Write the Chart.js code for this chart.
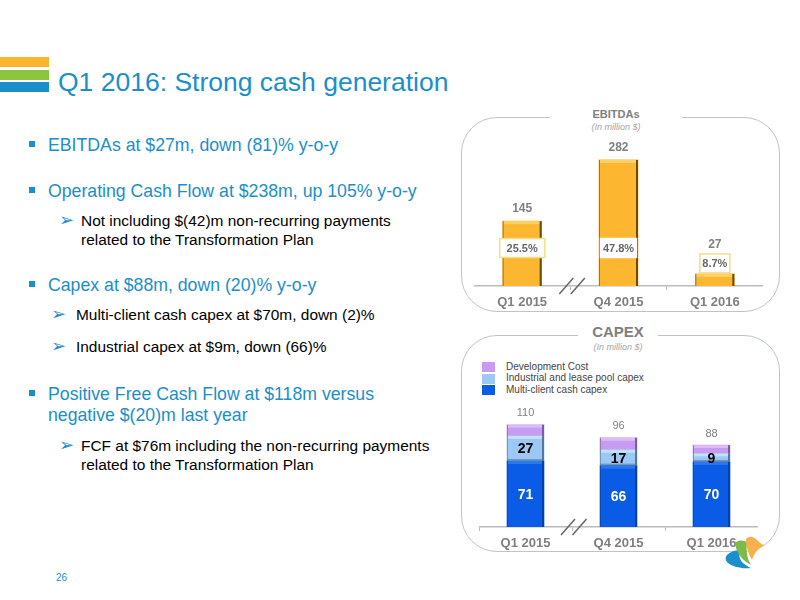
<!DOCTYPE html>
<html>
<head>
<meta charset="utf-8">
<title>Q1 2016: Strong cash generation</title>
<script src="https://cdn.jsdelivr.net/npm/chart.js@4"></script>
<style>
html, body { margin: 0; padding: 0; background: #fff; overflow: hidden; }
body { width: 800px; height: 600px; position: relative; font-family: "Liberation Sans", Arial, sans-serif; }
.abs { position: absolute; white-space: nowrap; }
.stripe { position: absolute; left: 0; width: 49px; height: 10px; }
.title { left: 58px; top: 68px; font-size: 26.5px; line-height: 28px; color: #1a8fca; }
.b1 { font-size: 17.7px; line-height: 20px; color: #1a8fca; }
.b2 { font-size: 15.45px; line-height: 20px; color: #000; }
.sq { position: absolute; left: 29px; width: 6px; height: 6px; background: #1a8fca; }
.arrow { font-family: "DejaVu Sans", sans-serif; font-size: 18px; line-height: 20px; color: #1a8fca; }
.panel { position: absolute; border: 1.8px solid #c0c4c8; border-radius: 36px; box-sizing: border-box; }
.ptitle { position: absolute; background: #fff; text-align: center; font-weight: bold; color: #7f7f7f; }
.psub { position: absolute; text-align: center; font-style: italic; font-size: 9px; color: #a6a6a6; }
.leg { position: absolute; left: 506px; font-size: 10px; line-height: 12px; color: #444; white-space: nowrap; }
.swatch { position: absolute; left: 482px; width: 13px; height: 10px; }
canvas { position: absolute; }
</style>
</head>
<body>
<div class="stripe" style="top:57px;background:#fdb42f"></div>
<div class="stripe" style="top:70px;background:#8cc63f"></div>
<div class="stripe" style="top:82px;background:#1a8fca"></div>
<div class="abs title">Q1 2016: Strong cash generation</div>

<div class="sq" style="top:141px"></div>
<div class="abs b1" style="left:48px;top:135px">EBITDAs at $27m, down (81)% y-o-y</div>
<div class="sq" style="top:187px"></div>
<div class="abs b1" style="left:48px;top:181px">Operating Cash Flow at $238m, up 105% y-o-y</div>
<div class="abs arrow" style="left:59px;top:210px">&#10146;</div>
<div class="abs b2" style="left:81px;top:211px">Not including $(42)m non-recurring payments</div>
<div class="abs b2" style="left:81px;top:230px">related to the Transformation Plan</div>
<div class="sq" style="top:281px"></div>
<div class="abs b1" style="left:48px;top:275px">Capex at $88m, down (20)% y-o-y</div>
<div class="abs arrow" style="left:51px;top:304px">&#10146;</div>
<div class="abs b2" style="left:76px;top:305px">Multi-client cash capex at $70m, down (2)%</div>
<div class="abs arrow" style="left:51px;top:336px">&#10146;</div>
<div class="abs b2" style="left:76px;top:337px">Industrial capex at $9m, down (66)%</div>
<div class="sq" style="top:390px"></div>
<div class="abs b1" style="left:48px;top:384px">Positive Free Cash Flow at $118m versus</div>
<div class="abs b1" style="left:48px;top:405px">negative $(20)m last year</div>
<div class="abs arrow" style="left:59px;top:435px">&#10146;</div>
<div class="abs b2" style="left:81px;top:436px">FCF at $76m including the non-recurring payments</div>
<div class="abs b2" style="left:81px;top:455px">related to the Transformation Plan</div>
<div class="abs" style="left:56px;top:572px;font-size:10px;color:#1a8fca">26</div>

<div class="panel" style="left:461px;top:117px;width:319px;height:195px"></div>
<div class="ptitle" style="left:550px;top:106px;width:132px;font-size:11px;line-height:16px">EBITDAs</div>
<div class="psub" style="left:550px;top:122px;width:132px">(In million $)</div>

<div class="panel" style="left:461px;top:335px;width:319px;height:217px"></div>
<div class="ptitle" style="left:578px;top:323px;width:80px;font-size:15px;line-height:18px">CAPEX</div>
<div class="psub" style="left:578px;top:342px;width:80px">(In million $)</div>

<div class="swatch" style="top:362px;background:#c79cf0"></div>
<div class="swatch" style="top:374px;background:#9cc8f5"></div>
<div class="swatch" style="top:385px;background:#0a5ce6"></div>
<div class="leg" id="leg0" style="top:361px"></div>
<div class="leg" id="leg1" style="top:372px"></div>
<div class="leg" id="leg2" style="top:384px"></div>

<canvas id="ebitdaChart" style="left:474px;top:130px;width:289px;height:180px"></canvas>
<canvas id="capexChart" style="left:479px;top:400px;width:279px;height:151px"></canvas>

<svg class="abs" style="left:720px;top:525px" width="70" height="60" viewBox="0 0 70 60">
  <path d="M20 25 C8 26,3 32,7 37 C12 42,22 44,31 43 C24 40,17 35,20 25 Z" fill="#1a8fca"/>
  <path d="M15 18 C20 14,24 16,27 17 C26 25,27 34,31 40 C23 36,16 28,15 18 Z" fill="#7cbb4a"/>
  <path d="M26 14 C30 10,34 12,38 16 C41 19,43 20,45 20 C40 22,35 26,32 35 C29 30,26 22,26 14 Z" fill="#f9b04a"/>
</svg>

<script>
const ebitdaQuarters = ['Q1 2015', 'Q4 2015', 'Q1 2016'];
const ebitdaValues = [145, 282, 27];
const ebitdaMargins = ['25.5%', '47.8%', '8.7%'];

const capexQuarters = ['Q1 2015', 'Q4 2015', 'Q1 2016'];
const capexTotals = [110, 96, 88];
const multiClient = [71, 66, 70];
const industrial = [27, 17, 9];
const development = [12, 13, 9];

const capexLegend = ['Development Cost', 'Industrial and lease pool capex', 'Multi-client cash capex'];
capexLegend.forEach((t, i) => { document.getElementById('leg' + i).textContent = t; });

const FONT = '"Liberation Sans", Arial, sans-serif';
const GREY = '#7f7f7f';

// bevel look of the original bars, drawn over each bar element
const bevel = {
    id: 'bevel',
    afterDatasetsDraw(chart) {
        const ctx = chart.ctx;
        chart.data.datasets.forEach((ds, i) => {
            chart.getDatasetMeta(i).data.forEach(bar => {
                const l = bar.x - bar.width / 2, r = bar.x + bar.width / 2;
                const t = bar.y, b = bar.base;
                const h = b - t;
                ctx.save();
                ctx.fillStyle = ds.bevelTop;
                ctx.fillRect(l + 1, t, bar.width - 2, Math.min(3, h / 3));
                ctx.fillStyle = ds.bevelSide;
                ctx.fillRect(r - 2, t, 2, h);
                ctx.globalAlpha = 0.6;
                ctx.fillRect(l, t, 1, h);
                if (ds.bevelBottom)
                    ctx.fillRect(l, b - 2, bar.width, 2);
                ctx.restore();
            });
        });
    }
};

// the // mark on the axis between the first two quarters
const axisBreak = {
    id: 'axisBreak',
    afterDraw(chart) {
        const ctx = chart.ctx;
        const x = chart.scales.x;
        const y = chart.scales.y.bottom;
        const mid = (x.getPixelForValue(0) + x.getPixelForValue(1)) / 2;
        ctx.save();
        ctx.strokeStyle = '#666';
        ctx.lineWidth = 1.5;
        [-4, 7.5].forEach(dx => {
            ctx.beginPath();
            ctx.moveTo(mid + dx - 7, y + 8);
            ctx.lineTo(mid + dx + 7, y - 8);
            ctx.stroke();
        });
        ctx.restore();
    }
};

const ebitdaLabels = {
    id: 'ebitdaLabels',
    afterDatasetsDraw(chart) {
        const ctx = chart.ctx;
        const meta = chart.getDatasetMeta(0);
        const base = chart.scales.y.bottom;
        meta.data.forEach((bar, i) => {
            ctx.save();
            ctx.textAlign = 'center';
            ctx.textBaseline = 'bottom';
            ctx.fillStyle = GREY;
            ctx.font = 'bold 12px ' + FONT;
            // the small bar has its box sitting on it, the label goes above the box
            const onTop = base - bar.y < 40;
            const boxH = 19;
            const boxY = onTop ? bar.y - boxH - 1 : base - 38 - boxH / 2;
            const labelY = onTop ? boxY - 3 : bar.y - 6;
            ctx.fillText(String(ebitdaValues[i]), bar.x, labelY);
            const text = ebitdaMargins[i];
            ctx.font = 'bold 11px ' + FONT;
            const boxW = i === 0 ? 45 : (i === 1 ? 36 : 30);
            ctx.fillStyle = '#fff';
            ctx.strokeStyle = i === 1 ? '#fff' : '#f7dc85';
            ctx.lineWidth = 1.5;
            ctx.fillRect(bar.x - boxW / 2, boxY, boxW, boxH);
            ctx.strokeRect(bar.x - boxW / 2, boxY, boxW, boxH);
            ctx.fillStyle = '#666';
            ctx.textBaseline = 'middle';
            ctx.fillText(text, bar.x, boxY + boxH / 2 + 1);
            ctx.restore();
        });
    }
};

const capexLabels = {
    id: 'capexLabels',
    afterDatasetsDraw(chart) {
        const ctx = chart.ctx;
        const low = chart.getDatasetMeta(0).data;
        const mid = chart.getDatasetMeta(1).data;
        const top = chart.getDatasetMeta(2).data;
        capexTotals.forEach((total, i) => {
            ctx.save();
            ctx.textAlign = 'center';
            ctx.textBaseline = 'bottom';
            ctx.fillStyle = GREY;
            ctx.font = '11px ' + FONT;
            ctx.fillText(String(total), top[i].x, top[i].y - 6);
            ctx.textBaseline = 'middle';
            ctx.font = 'bold 14px ' + FONT;
            ctx.fillStyle = '#fff';
            ctx.fillText(String(multiClient[i]), low[i].x, (low[i].y + low[i].base) / 2 + 1);
            ctx.fillStyle = '#000';
            ctx.fillText(String(industrial[i]), mid[i].x, (mid[i].y + mid[i].base) / 2 + 1);
            ctx.restore();
        });
    }
};

function xAxis(height) {
    return {
        stacked: true,
        offset: true,
        afterFit: scale => { scale.height = height; },
        border: { color: '#b8bcc0', width: 1.5 },
        grid: { drawOnChartArea: false, offset: true, tickLength: 4, color: '#b8bcc0' },
        ticks: { color: GREY, padding: 5, maxRotation: 0, font: { family: FONT, size: 13, weight: 'bold' } }
    };
}

const sharedOptions = {
    responsive: false,
    animation: false,
    layout: { padding: 0 },
    plugins: { legend: { display: false }, tooltip: { enabled: false } }
};

function setSize(id, w, h) {
    const c = document.getElementById(id);
    c.width = w; c.height = h;
    return c;
}

new Chart(setSize('ebitdaChart', 289, 180), {
    type: 'bar',
    data: {
        labels: ebitdaQuarters,
        datasets: [
            {
                label: 'EBITDAs',
                data: ebitdaValues,
                backgroundColor: '#fdb62f',
                bevelTop: '#ffd066',
                bevelSide: '#6b4a10',
                barThickness: 39
            }
        ]
    },
    options: {
        ...sharedOptions,
        scales: {
            x: xAxis(24),
            y: { display: false, min: 0, max: 349 }
        }
    },
    plugins: [bevel, ebitdaLabels, axisBreak]
});

new Chart(setSize('capexChart', 279, 151), {
    type: 'bar',
    data: {
        labels: capexQuarters,
        datasets: [
            {
                label: capexLegend[2],
                data: multiClient,
                backgroundColor: '#0a5ce6',
                bevelTop: '#2a78f0',
                bevelSide: '#07409f',
                barThickness: 37
            },
            {
                label: capexLegend[1],
                data: industrial,
                backgroundColor: '#9cc8f5',
                bevelTop: '#c4e0fa',
                bevelSide: '#55779a',
                bevelBottom: true,
                barThickness: 37
            },
            {
                label: capexLegend[0],
                data: development,
                backgroundColor: '#c79cf0',
                bevelTop: '#dbbcf7',
                bevelSide: '#7d5aa0',
                barThickness: 37
            }
        ]
    },
    options: {
        ...sharedOptions,
        scales: {
            x: xAxis(24),
            y: { display: false, stacked: true, min: 0, max: 136.6 }
        }
    },
    plugins: [bevel, capexLabels, axisBreak]
});
</script>
</body>
</html>
